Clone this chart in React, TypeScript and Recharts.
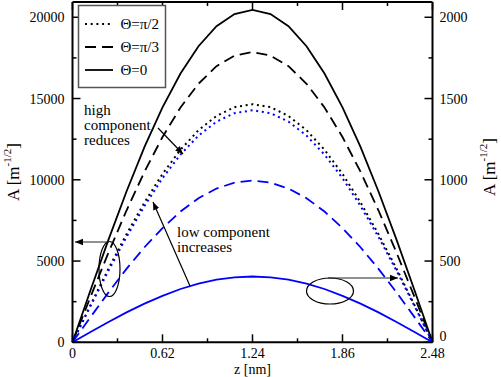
import React from 'react';
import { ComposedChart, Line, XAxis, YAxis } from 'recharts';

// z positions [nm]
const zNm = [0, 0.124, 0.248, 0.372, 0.496, 0.62, 0.744, 0.868, 0.992, 1.116, 1.24, 1.364, 1.488, 1.612, 1.736, 1.86, 1.984, 2.108, 2.232, 2.356, 2.48];

// high component (left axis)
const highTheta0 = [0, 3200, 6320, 9280, 12020, 14460, 16540, 18220, 19450, 20200, 20450, 20200, 19450, 18220, 16540, 14460, 12020, 9280, 6320, 3200, 0];
const highPi3 = [0, 2790, 5520, 8110, 10500, 12630, 14450, 15910, 16990, 17640, 17860, 17640, 16990, 15910, 14450, 12630, 10500, 8110, 5520, 2790, 0];
const highPi2 = [0, 2290, 4530, 6650, 8610, 10360, 11850, 13050, 13930, 14470, 14650, 14470, 13930, 13050, 11850, 10360, 8610, 6650, 4530, 2290, 0];

// low component (right axis)
const lowPi2 = [0, 223, 441, 648, 839, 1010, 1155, 1272, 1358, 1410, 1428, 1410, 1358, 1272, 1155, 1010, 839, 648, 441, 223, 0];
const lowPi3 = [0, 155, 307, 452, 585, 703, 805, 887, 946, 983, 995, 983, 946, 887, 805, 703, 585, 452, 307, 155, 0];
const lowTheta0 = [0, 63, 125, 184, 238, 286, 328, 361, 385, 400, 405, 400, 385, 361, 328, 286, 238, 184, 125, 63, 0];

const xTicks = [0, 0.31, 0.62, 0.93, 1.24, 1.55, 1.86, 2.17, 2.48];
const xLabels = ['0', '', '0.62', '', '1.24', '', '1.86', '', '2.48'];
const leftTicks = [0, 2500, 5000, 7500, 10000, 12500, 15000, 17500, 20000];
const rightTicks = [0, 250, 500, 750, 1000, 1250, 1500, 1750, 2000];

const legendItems = [
  { label: 'Θ=π/2', dash: '2 3.7' },
  { label: 'Θ=π/3', dash: '11 6' },
  { label: 'Θ=0', dash: undefined },
];

const data = zNm.map((z, i) => ({
  z,
  h0: highTheta0[i],
  h3: highPi3[i],
  h2: highPi2[i],
  l2: lowPi2[i],
  l3: lowPi3[i],
  l0: lowTheta0[i],
}));

const FONT = 'Liberation Serif';

const BottomTick = (props: any) => {
  const { x, y, index } = props;
  const major = index % 2 === 0;
  return (
    <g>
      <line x1={x} y1={y} x2={x} y2={y - (major ? 8 : 4)} stroke="#000" strokeWidth={1.5} />
      {major && (
        <text x={x} y={y + 16} textAnchor="middle" fontFamily={FONT} fontSize={14} fill="#000">
          {xLabels[index]}
        </text>
      )}
    </g>
  );
};

const TopTick = (props: any) => {
  const { x, y, index } = props;
  const major = index % 2 === 0;
  return <line x1={x} y1={y} x2={x} y2={y + (major ? 8 : 4)} stroke="#000" strokeWidth={1.5} />;
};

const LeftTick = (props: any) => {
  const { x, y, payload } = props;
  const major = payload.value % 5000 === 0;
  return (
    <g>
      <line x1={x} y1={y} x2={x + (major ? 8 : 4)} y2={y} stroke="#000" strokeWidth={1.5} />
      {major && (
        <text x={x - 8} y={y + 5} textAnchor="end" fontFamily={FONT} fontSize={14} fill="#000">
          {payload.value}
        </text>
      )}
    </g>
  );
};

const RightTick = (props: any) => {
  const { x, y, payload } = props;
  const major = payload.value % 500 === 0;
  return (
    <g>
      <line x1={x} y1={y} x2={x - (major ? 8 : 4)} y2={y} stroke="#000" strokeWidth={1.5} />
      {major && (
        <text x={x + 7} y={payload.value === 0 ? y - 1 : y + 5} textAnchor="start" fontFamily={FONT} fontSize={14} fill="#000">
          {payload.value}
        </text>
      )}
    </g>
  );
};

const AxisTitle = ({ x, y }: { x: number; y: number }) => (
  <text transform={`translate(${x},${y}) rotate(-90)`} textAnchor="middle" fontFamily={FONT} fontSize={17} fill="#000">
    A [m
    <tspan fontSize={11} dy={-8}>-1/2</tspan>
    <tspan dy={8}>]</tspan>
  </text>
);

export default function App() {
  return (
    <div style={{ position: 'absolute', left: 0, top: 0, width: 501, height: 377, background: '#fff' }}>
      <ComposedChart
        width={501}
        height={377}
        data={data}
        margin={{ top: 1, right: 8.5, bottom: 4.7, left: 12.5 }}
      >
        <XAxis
          xAxisId="bottom"
          dataKey="z"
          type="number"
          domain={[0, 2.48]}
          ticks={xTicks}
          interval={0}
          height={30}
          tickSize={0}
          tickMargin={0}
          tickLine={false}
          axisLine={{ stroke: '#000', strokeWidth: 2 }}
          tick={<BottomTick />}
        />
        <XAxis
          xAxisId="top"
          orientation="top"
          dataKey="z"
          type="number"
          domain={[0, 2.48]}
          ticks={xTicks}
          interval={0}
          height={1}
          tickSize={0}
          tickMargin={0}
          tickLine={false}
          axisLine={{ stroke: '#000', strokeWidth: 2 }}
          tick={<TopTick />}
        />
        <YAxis
          yAxisId="left"
          type="number"
          domain={[0, 20940]}
          ticks={leftTicks}
          interval={0}
          width={60}
          tickSize={0}
          tickMargin={0}
          tickLine={false}
          axisLine={{ stroke: '#000', strokeWidth: 2 }}
          tick={<LeftTick />}
        />
        <YAxis
          yAxisId="right"
          orientation="right"
          type="number"
          domain={[0, 2094]}
          ticks={rightTicks}
          interval={0}
          width={60}
          tickSize={0}
          tickMargin={0}
          tickLine={false}
          axisLine={{ stroke: '#000', strokeWidth: 2 }}
          tick={<RightTick />}
        />
        <Line xAxisId="bottom" yAxisId="left" dataKey="h2" stroke="#000" strokeWidth={2} strokeDasharray="2 3.7" dot={false} isAnimationActive={false} />
        <Line xAxisId="bottom" yAxisId="left" dataKey="h3" stroke="#000" strokeWidth={1.8} strokeDasharray="11 6" dot={false} isAnimationActive={false} />
        <Line xAxisId="bottom" yAxisId="left" dataKey="h0" stroke="#000" strokeWidth={1.8} dot={false} isAnimationActive={false} />
        <Line xAxisId="bottom" yAxisId="right" dataKey="l2" stroke="#0000ff" strokeWidth={2} strokeDasharray="2 3.7" dot={false} isAnimationActive={false} />
        <Line xAxisId="bottom" yAxisId="right" dataKey="l3" stroke="#0000ff" strokeWidth={1.8} strokeDasharray="11 6" dot={false} isAnimationActive={false} />
        <Line xAxisId="bottom" yAxisId="right" dataKey="l0" stroke="#0000ff" strokeWidth={1.8} dot={false} isAnimationActive={false} />
      </ComposedChart>
      <svg
        width={501}
        height={377}
        style={{ position: 'absolute', left: 0, top: 0, pointerEvents: 'none' }}
      >
        <defs>
          <marker id="arr" viewBox="0 0 10 10" refX={10} refY={5} markerWidth={8} markerHeight={8} markerUnits="userSpaceOnUse" orient="auto">
            <path d="M0,1 L10,5 L0,9 Z" fill="#000" />
          </marker>
        </defs>
        <g transform="translate(78.5,5.5)">
          <rect x={0} y={0} width={87} height={82} fill="#fff" stroke="#555" strokeWidth={1.5} />
          {legendItems.map((it, i) => {
            const cy = 18.5 + i * 23;
            return (
              <g key={it.label}>
                <line x1={6.5} y1={cy} x2={34.5} y2={cy} stroke="#000" strokeWidth={1.8} strokeDasharray={it.dash} />
                <text x={42} y={cy + 5} fontFamily={FONT} fontSize={15} fill="#000">
                  {it.label}
                </text>
              </g>
            );
          })}
        </g>
        <text fontFamily={FONT} fontSize={15} fill="#000">
          <tspan x={84} y={115}>high</tspan>
          <tspan x={84} y={130}>component</tspan>
          <tspan x={84} y={145}>reduces</tspan>
        </text>
        <line x1={158} y1={128} x2={183} y2={154} stroke="#000" strokeWidth={1.2} markerEnd="url(#arr)" />
        <text fontFamily={FONT} fontSize={15} fill="#000">
          <tspan x={177} y={237}>low component</tspan>
          <tspan x={177} y={252}>increases</tspan>
        </text>
        <line x1={190} y1={286} x2={153} y2={202} stroke="#000" strokeWidth={1.2} markerEnd="url(#arr)" />
        <ellipse cx={109.5} cy={269} rx={10.5} ry={27.5} fill="none" stroke="#000" strokeWidth={1.2} />
        <line x1={109} y1={242} x2={75} y2={242} stroke="#222" strokeWidth={1.2} markerEnd="url(#arr)" />
        <ellipse cx={330} cy={291} rx={23.5} ry={13} fill="none" stroke="#000" strokeWidth={1.2} />
        <line x1={328} y1={278} x2={398} y2={278} stroke="#222" strokeWidth={1.2} markerEnd="url(#arr)" />
        <AxisTitle x={19} y={172} />
        <AxisTitle x={495} y={167} />
        <text x={252.5} y={374} textAnchor="middle" fontFamily={FONT} fontSize={14} fill="#000">
          z [nm]
        </text>
      </svg>
    </div>
  );
}
